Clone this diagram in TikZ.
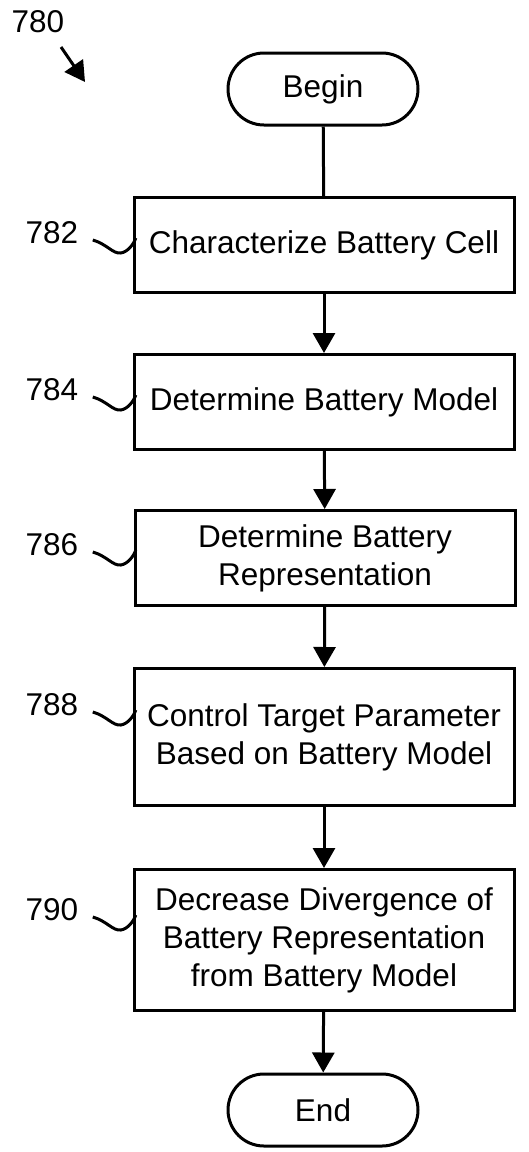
\documentclass[tikz,border=0pt]{standalone}
\usepackage{fontspec}
\setmainfont{Liberation Sans}
\usetikzlibrary{arrows.meta}

\begin{document}
\begin{tikzpicture}[x=1pt, y=-1pt, line width=3pt, >={Triangle[width=22pt,length=20pt]},
  every node/.style={font=\fontsize{31.5}{38}\selectfont},
  term/.style={draw, rounded corners=36pt, minimum width=190pt, minimum height=72pt, inner sep=0pt},
  proc/.style={draw, minimum width=380pt, align=center, inner sep=0pt},
  ref/.style={inner sep=0pt}]
\useasboundingbox (0,0) rectangle (528,1152);

\node[term] (begin) at (323,89) {Begin};
\node[proc, minimum height=95pt] (b782) at (324,245) {Characterize Battery Cell};
\node[proc, minimum height=95pt] (b784) at (324,402) {Determine Battery Model};
\node[proc, minimum height=95pt] (b786) at (325,558) {Determine Battery\\Representation};
\node[proc, minimum height=137pt] (b788) at (324,737) {Control Target Parameter\\Based on Battery Model};
\node[proc, minimum height=141pt] (b790) at (324,940) {Decrease Divergence of\\Battery Representation\\from Battery Model};
\node[term] (end) at (323,1110) {End};

% reference numerals
\node[ref] (l780) at (38,22) {780};
\node[ref] (l782) at (52,233) {782};
\node[ref] (l784) at (52,390) {784};
\node[ref] (l786) at (52,545) {786};
\node[ref] (l788) at (52,705) {788};
\node[ref] (l790) at (52,910) {790};
\coordinate (t780) at (85,82);

\draw[->] (l780) ++(23,25) -- (t780);
\draw (l782.east) ++(13,7) .. controls +(14,4) and +(-8,1) .. ++(28,13) .. controls +(7,-1) and +(-2,6) .. ++(15,-15);
\draw (l784.east) ++(13,7) .. controls +(14,4) and +(-8,1) .. ++(28,13) .. controls +(7,-1) and +(-2,6) .. ++(15,-15);
\draw (l786.east) ++(13,7) .. controls +(14,4) and +(-8,1) .. ++(28,13) .. controls +(7,-1) and +(-2,6) .. ++(15,-15);
\draw (l788.east) ++(13,7) .. controls +(14,4) and +(-8,1) .. ++(28,13) .. controls +(7,-1) and +(-2,6) .. ++(15,-15);
\draw (l790.east) ++(13,7) .. controls +(14,4) and +(-8,1) .. ++(28,13) .. controls +(7,-1) and +(-2,6) .. ++(15,-15);

\draw (begin) -- (b782);
\draw[->] (b782) -- (b784);
\draw[->] (b784) -- (b786);
\draw[->] (b786) -- (b788);
\draw[->] (b788) -- (b790);
\draw[->] (b790) -- (end);
\end{tikzpicture}
\end{document}
